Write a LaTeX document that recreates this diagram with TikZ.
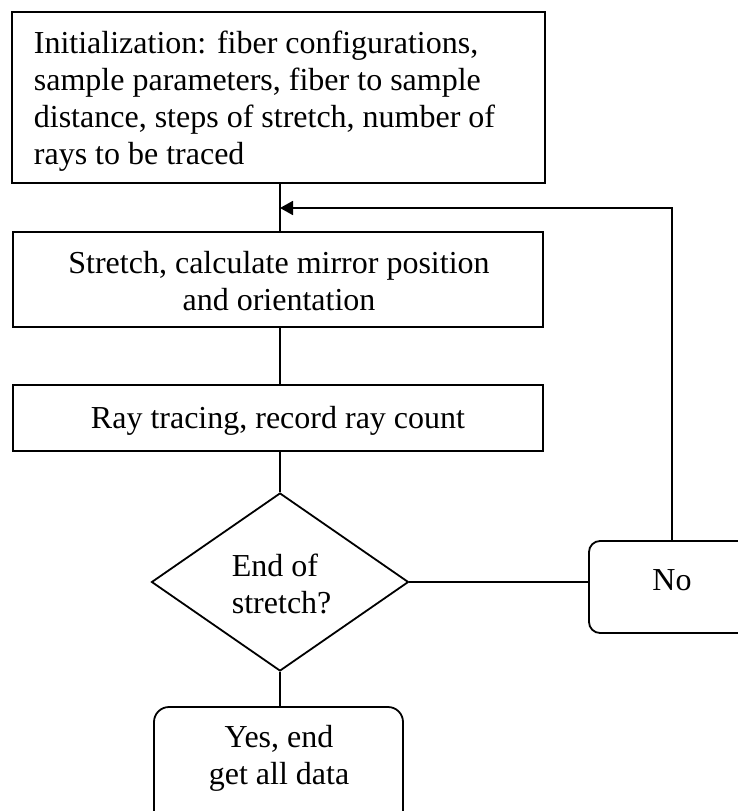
\documentclass[tikz,border=0pt]{standalone}
\usepackage{fontspec}
\setmainfont{Liberation Serif}
\usetikzlibrary{shapes.geometric,arrows.meta}
\begin{document}
\begin{tikzpicture}[x=1pt,y=-1pt,
  line width=1.8pt,
  every node/.style={font=\fontsize{32}{37}\selectfont, inner sep=0pt},
  box/.style={draw, rectangle},
  txt/.style={draw=none, align=center},
  tip/.style={-{Triangle[length=13pt,width=14pt]}}]
\useasboundingbox (0,0) rectangle (738,811);
\clip (0,0) rectangle (738,811);
\node[box, minimum width=533pt, minimum height=171pt] (init) at (278.5,97.5) {};
\node[txt, align=left, anchor=west] (inittxt) at (33,101)
  {Initialization: fiber configurations,\\sample parameters, fiber to sample\\distance, steps of stretch, number of\\rays to be traced};
\node[box, minimum width=530pt, minimum height=95pt] (stretch) at (278,279.5) {};
\node[txt] (stretchtxt) at (279,281) {Stretch, calculate mirror position\\and orientation};
\node[box, minimum width=530pt, minimum height=66pt] (ray) at (278,418) {};
\node[txt] (raytxt) at (278,421) {Ray tracing, record ray count};
\node[draw, diamond, minimum width=257pt, minimum height=178pt, aspect=1.44] (dia) at (280,582) {};
\node[txt, align=left, anchor=west] (diatxt) at (231,584) {End of\\stretch?};
\node[box, rounded corners=11pt, minimum width=166pt, minimum height=92pt] (no) at (672,587) {};
\node[txt] (notxt) at (672,580) {No};
\node[box, rounded corners=15pt, minimum width=249pt, minimum height=124pt] (yes) at (278.5,769) {};
\node[txt] (yestxt) at (279,758) {Yes, end\\get all data};
\coordinate (j) at (280,208);
\draw (init.south -| dia) -- (stretch.north -| dia);
\draw (stretch.south -| dia) -- (ray.north -| dia);
\draw (ray.south -| dia) -- (dia.north);
\draw (dia.east) -- (dia.east -| no.west);
\draw (dia.south) -- (yes.north -| dia);
\draw[tip] (no.north) -- (no.north |- j) -- (j);
\end{tikzpicture}
\end{document}
